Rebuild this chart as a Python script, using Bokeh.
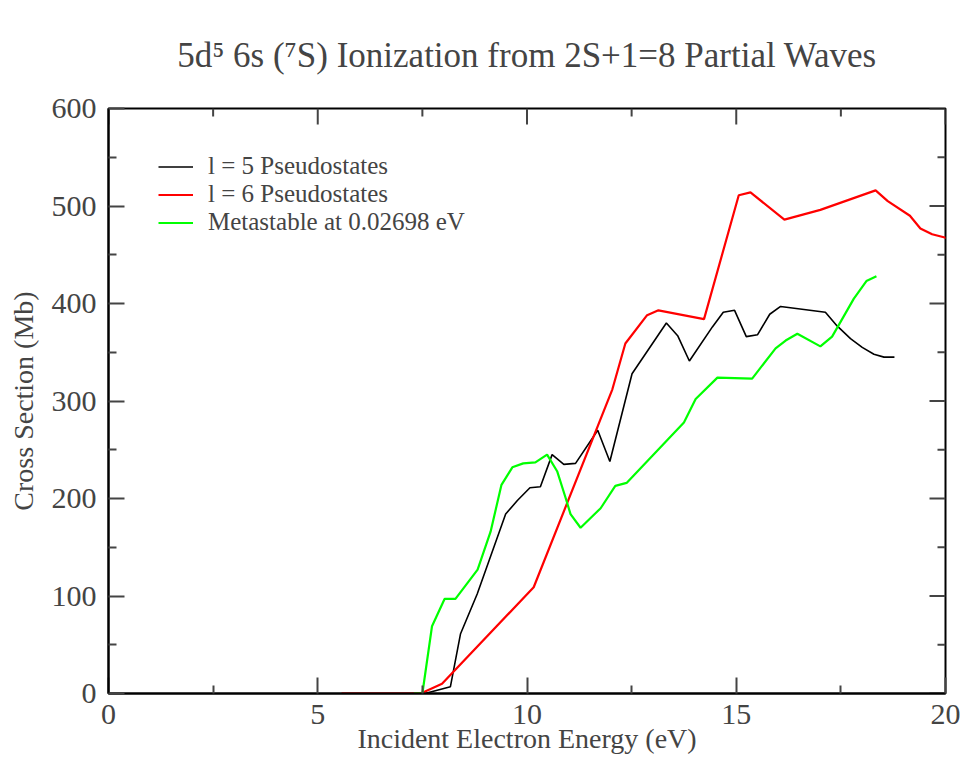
import math

from bokeh.plotting import figure
from bokeh.models import FixedTicker, LinearAxis, Legend, LegendItem, Range1d
from bokeh.embed import file_html
from bokeh.resources import INLINE

# Ionization cross sections (Mb) versus incident electron energy (eV)
energy_l5 = [5.57, 7.56, 8.17, 8.41, 8.81, 9.49, 9.77, 10.07, 10.32, 10.60, 10.88,
             11.16, 11.69, 11.98, 12.51, 13.33, 13.60, 13.88, 14.43, 14.69, 14.96,
             15.24, 15.51, 15.80, 16.06, 17.13, 17.41, 17.73, 18.01, 18.29, 18.53, 18.78]
sigma_l5 = [0, 0, 7, 61, 102, 184, 198, 211, 212, 245, 235,
            236, 270, 238, 328, 380, 367, 341, 376, 391, 393,
            366, 368, 389, 397, 391, 377, 364, 355, 348, 345, 345]

energy_l6 = [5.57, 7.46, 7.97, 10.16, 12.04, 12.35, 12.87, 13.14, 14.23, 15.06,
             15.34, 16.15, 17.01, 18.33, 18.62, 19.15, 19.40, 19.68, 19.96, 20.10]
sigma_l6 = [0, 0, 10, 109, 312, 359, 388, 393, 384, 511,
            514, 486, 496, 516, 505, 490, 477, 471, 468, 466]

energy_meta = [7.30, 7.50, 7.73, 8.03, 8.29, 8.82, 9.13, 9.39, 9.65, 9.91, 10.20,
               10.48, 10.72, 10.92, 11.04, 11.28, 11.76, 12.11, 12.38, 13.75, 14.03,
               14.55, 15.38, 15.94, 16.18, 16.46, 17.01, 17.29, 17.53, 17.81, 18.11, 18.35]
sigma_meta = [0, 0, 69, 97, 97, 127, 166, 214, 232, 236, 237,
              245, 228, 201, 184, 170, 190, 213, 216, 278, 302,
              324, 323, 354, 362, 369, 356, 366, 384, 405, 423, 428]

title_text = "5d\u2075 6s (\u2077S) Ionization from 2S+1=8 Partial Waves"
series_labels = ["l = 5 Pseudostates", "l = 6 Pseudostates", "Metastable at 0.02698 eV"]
x_ticks = [0, 5, 10, 15, 20]
x_minor = [2.5, 7.5, 12.5, 17.5]
y_ticks = [0, 100, 200, 300, 400, 500, 600]
y_minor = [50, 150, 250, 350, 450, 550]
X_MIN, X_MAX = 0, 20
Y_MIN, Y_MAX = 0, 600

FONT = "Liberation Serif"
TICK_COLOR = "#444444"
MAJOR_LEN, MINOR_LEN = 16, 8

p = figure(width=967, height=765, output_backend="svg", toolbar_location=None,
           x_range=Range1d(X_MIN, X_MAX), y_range=Range1d(Y_MIN, Y_MAX),
           x_axis_location=None, y_axis_location=None,
           min_border_left=108, min_border_right=22, min_border_top=108, min_border_bottom=72)
p.grid.visible = False
p.background_fill_color = "white"
p.border_fill_color = "white"
p.outline_line_color = "black"
p.outline_line_width = 2

p.title.text = title_text
p.title.align = "center"
p.title.vertical_align = "top"
p.title.text_font = FONT
p.title.text_font_size = "35px"
p.title.text_font_style = "normal"
p.title.standoff = 64


def make_axis(ticks, minor, label, label_standoff, title_standoff):
    ax = LinearAxis(ticker=FixedTicker(ticks=ticks, minor_ticks=minor))
    ax.axis_line_color = "black"
    ax.axis_line_width = 2
    ax.major_tick_in = MAJOR_LEN
    ax.major_tick_out = 0
    ax.minor_tick_in = MINOR_LEN
    ax.minor_tick_out = 0
    ax.major_tick_line_width = 2
    ax.minor_tick_line_width = 2
    ax.major_tick_line_color = TICK_COLOR
    ax.minor_tick_line_color = TICK_COLOR
    ax.major_label_text_font = FONT
    ax.major_label_text_font_size = "30px"
    ax.major_label_standoff = label_standoff
    ax.axis_label = label
    ax.axis_label_text_font = FONT
    ax.axis_label_text_font_size = "28px"
    ax.axis_label_text_font_style = "normal"
    ax.axis_label_standoff = title_standoff
    return ax


p.add_layout(make_axis(x_ticks, x_minor, "Incident Electron Energy (eV)", 11, -4), "below")
p.add_layout(make_axis(y_ticks, y_minor, "Cross Section (Mb)", 12, 10), "left")

# inward ticks along the top and right edges of the frame
for ticks, length in ((x_ticks, MAJOR_LEN), (x_minor, MINOR_LEN)):
    p.ray(x=ticks, y=[Y_MAX] * len(ticks), length=length, length_units="screen",
          angle=-math.pi / 2, line_color=TICK_COLOR, line_width=2)
for ticks, length in ((y_ticks, MAJOR_LEN), (y_minor, MINOR_LEN)):
    p.ray(x=[X_MAX] * len(ticks), y=ticks, length=length, length_units="screen",
          angle=math.pi, line_color=TICK_COLOR, line_width=2)

r5 = p.line(energy_l5, sigma_l5, line_color="black", line_width=1.6)
r6 = p.line(energy_l6, sigma_l6, line_color="#ff0000", line_width=2.2)
rm = p.line(energy_meta, sigma_meta, line_color="#00ff00", line_width=2.2)

legend = Legend(items=[LegendItem(label=series_labels[0], renderers=[r5]),
                       LegendItem(label=series_labels[1], renderers=[r6]),
                       LegendItem(label=series_labels[2], renderers=[rm])],
                location=(50, 457))
legend.margin = 0
legend.padding = 0
legend.spacing = 0
legend.glyph_width = 35
legend.glyph_height = 27
legend.label_height = 27
legend.label_standoff = 15
legend.label_text_font = FONT
legend.label_text_font_size = "25px"
legend.background_fill_alpha = 0
legend.border_line_color = None
p.add_layout(legend)

open("out.html", "w").write(file_html(p, INLINE))
